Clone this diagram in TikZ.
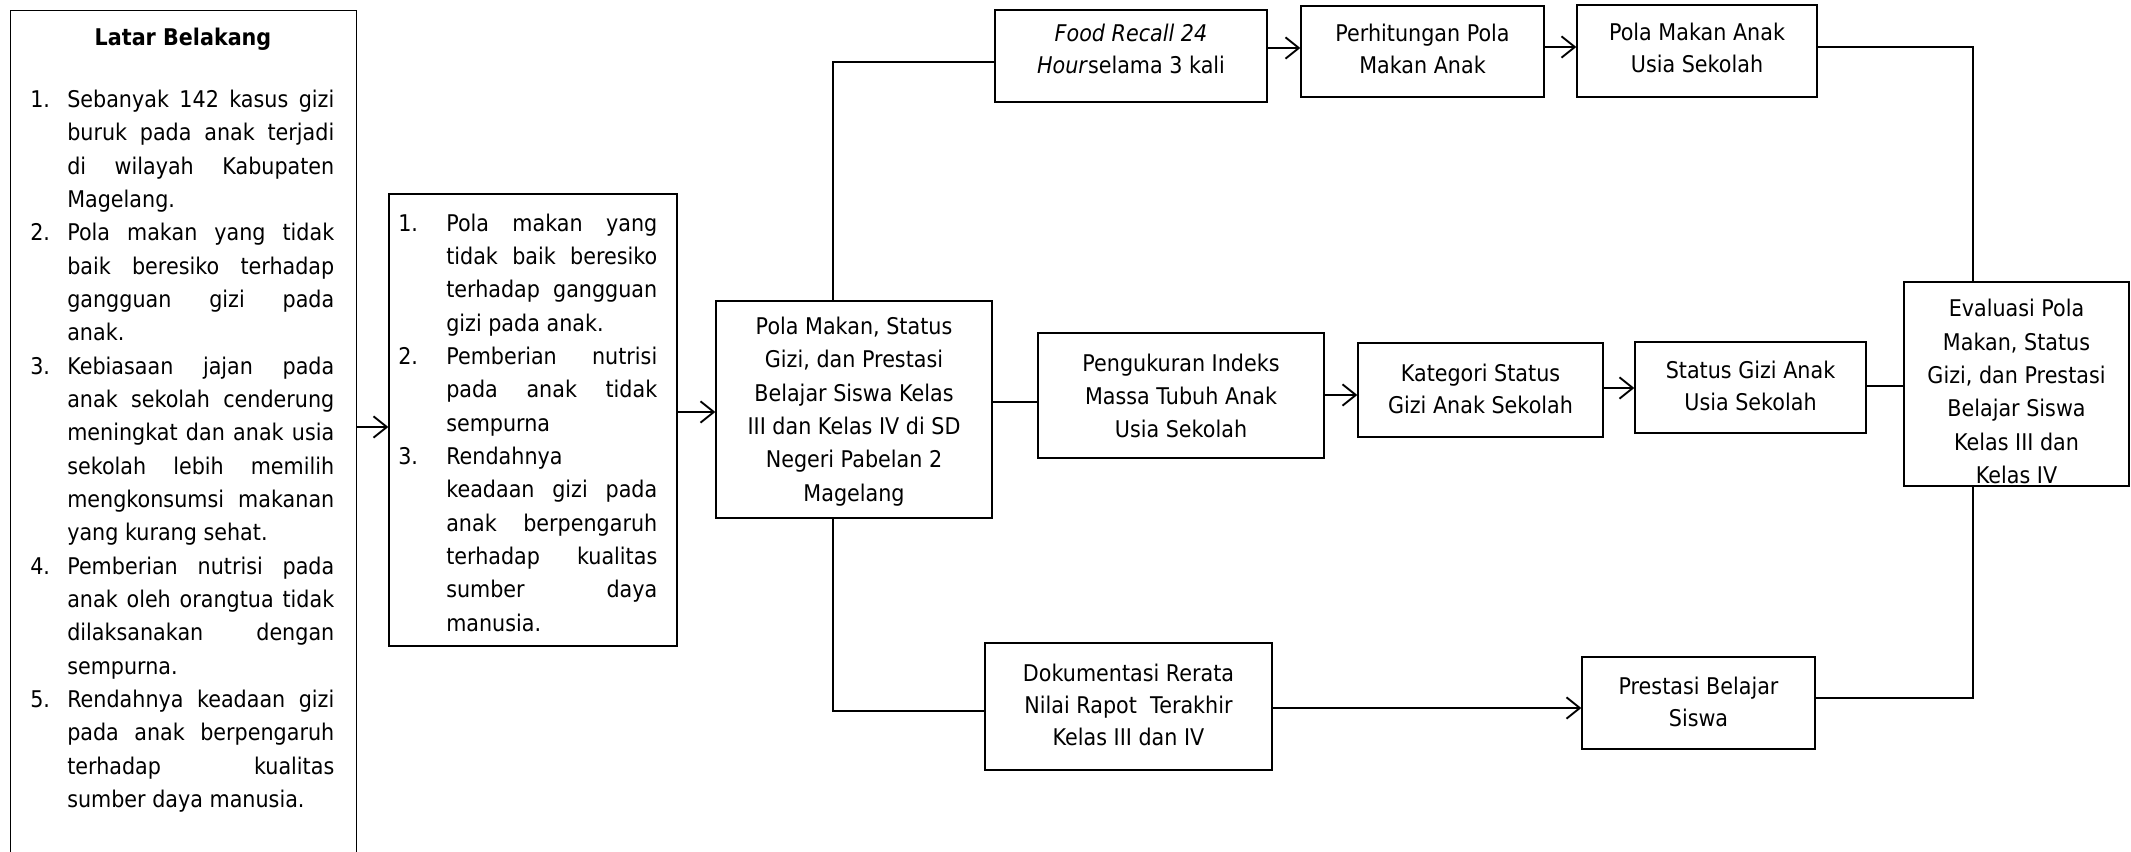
\documentclass[tikz,border=0pt]{standalone}
\usepackage{fontspec}
\setmainfont{DejaVu Sans}[FakeStretch=0.9]
\usetikzlibrary{arrows.meta,fit}
\hbadness=10000 \vbadness=10000 \tolerance=10000 \hfuzz=2pt
\newcommand\hitem[3]{\par\noindent\hangindent=#1\hangafter=1\makebox[#1][l]{\strut #2}#3}
\tikzset{
  bx/.style={draw, line width=1pt, inner sep=0pt},
  tx/.style={inner sep=0pt, align=center, font=\fontsize{17.25pt}{24pt}\selectfont},
  txw/.style={inner sep=0pt, align=center, font=\fontsize{17.25pt}{25pt}\selectfont},
  lst/.style={inner sep=0pt, anchor=north west, align=justify,
    font=\fontsize{17.25pt}{25pt}\selectfont},
  ln/.style={line width=1.4pt},
  arr/.style={ln, -{Straight Barb[length=10pt,width=16pt]}},
}
\begin{document}
\begin{tikzpicture}[x=0.75pt,y=-0.75pt]
\useasboundingbox (0,0) rectangle (2131,852);
\fill[white] (0,0) rectangle (2131,852);

% left background box (open at bottom)
\node[inner sep=0pt, fit={(11,11) (356,856)}] (latar) {};
\draw[line width=1pt] (latar.south west) -- (latar.north west) -- (latar.north east) -- (latar.south east);
\node[font=\bfseries\fontsize{17.25pt}{24pt}\selectfont] (lbtitle) at (183,39) {Latar Belakang};
\node[lst, text width=228pt] (lblist) at (30,74) {%
\hitem{27.75pt}{1.}{Sebanyak 142 kasus gizi\linebreak buruk pada anak terjadi\linebreak di wilayah Kabupaten\linebreak Magelang.}
\hitem{27.75pt}{2.}{Pola makan yang tidak\linebreak baik beresiko terhadap\linebreak gangguan gizi pada\linebreak anak.}
\hitem{27.75pt}{3.}{Kebiasaan jajan pada\linebreak anak sekolah cenderung\linebreak meningkat dan anak usia\linebreak sekolah lebih memilih\linebreak mengkonsumsi makanan\linebreak yang kurang sehat.}
\hitem{27.75pt}{4.}{Pemberian nutrisi pada\linebreak anak oleh orangtua tidak\linebreak dilaksanakan dengan\linebreak sempurna.}
\hitem{27.75pt}{5.}{Rendahnya keadaan gizi\linebreak pada anak berpengaruh\linebreak terhadap kualitas\linebreak sumber daya manusia.}\par}; 

% problem box
\node[bx, fit={(389,194) (677,646)}] (mid) {};
\node[lst, text width=194.25pt] (midlist) at (398,197.5) {%
\hitem{36pt}{1.}{Pola makan yang\linebreak tidak baik beresiko\linebreak terhadap gangguan\linebreak gizi pada anak.}
\hitem{36pt}{2.}{Pemberian nutrisi\linebreak pada anak tidak\linebreak sempurna}
\hitem{36pt}{3.}{Rendahnya\linebreak keadaan gizi pada\linebreak anak berpengaruh\linebreak terhadap kualitas\linebreak sumber daya\linebreak manusia.}\par};

% flow boxes
\node[bx, fit={(716,301) (992,518)}] (central) {};
\node[bx, fit={(995,10) (1267,102)}] (food) {};
\node[bx, fit={(1301,6) (1544,97)}] (perh) {};
\node[bx, fit={(1577,5) (1817,97)}] (pola) {};
\node[bx, fit={(1038,333) (1324,458)}] (peng) {};
\node[bx, fit={(1358,343) (1603,437)}] (kat) {};
\node[bx, fit={(1635,342) (1866,433)}] (stat) {};
\node[bx, fit={(1904,282) (2129,486)}] (eval) {};
\node[bx, fit={(985,643) (1272,770)}] (dok) {};
\node[bx, fit={(1582,657) (1815,749)}] (pres) {};

% box texts
\node[txw] (centralT) at (central.center |- 0,411.5) {Pola Makan, Status\\Gizi, dan Prestasi\\Belajar Siswa Kelas\\III dan Kelas IV di SD\\Negeri Pabelan 2\\Magelang};
\node[tx] (foodT) at (food.center |- 0,49) {\textit{Food Recall 24}\\\textit{Hour}selama 3 kali};
\node[tx] (perhT) at (perh.center |- 0,49) {Perhitungan Pola\\Makan Anak};
\node[tx] (polaT) at (pola.center |- 0,48) {Pola Makan Anak\\Usia Sekolah};
\node[txw] (pengT) at (peng.center |- 0,396) {Pengukuran Indeks\\Massa Tubuh Anak\\Usia Sekolah};
\node[tx] (katT) at (kat.center |- 0,388.5) {Kategori Status\\Gizi Anak Sekolah};
\node[tx] (statT) at (stat.center |- 0,385.5) {Status Gizi Anak\\Usia Sekolah};
\node[txw] (evalT) at (eval.center |- 0,391.5) {Evaluasi Pola\\Makan, Status\\Gizi, dan Prestasi\\Belajar Siswa\\Kelas III dan\\Kelas IV};
\node[tx] (dokT) at (dok.center |- 0,705) {Dokumentasi Rerata\\Nilai Rapot~ Terakhir\\Kelas III dan IV};
\node[tx] (presT) at (pres.center |- 0,701.5) {Prestasi Belajar\\Siswa};

% helper coordinates
\coordinate (yA) at (0,427);
\coordinate (yB) at (0,412);
\coordinate (vx) at (833,62);
\coordinate (vb) at (833,711);
\coordinate (yF) at (0,48);
\coordinate (yP) at (0,47);
\coordinate (ex1) at (1973,47);
\coordinate (yM) at (0,402);
\coordinate (yK) at (0,395);
\coordinate (yS) at (0,388);
\coordinate (yE) at (0,386);
\coordinate (yD) at (0,708);
\coordinate (ex2) at (1973,698);

% connectors
\draw[arr] (latar.east |- yA) -- (mid.west |- yA);
\draw[arr] (mid.east |- yB) -- (central.west |- yB);
\draw[ln] (central.north -| vx) |- (food.west |- vx);
\draw[arr] (food.east |- yF) -- (perh.west |- yF);
\draw[arr] (perh.east |- yP) -- (pola.west |- yP);
\draw[ln] (pola.east |- ex1) -| (eval.north -| ex1);
\draw[ln] (central.east |- yM) -- (peng.west |- yM);
\draw[arr] (peng.east |- yK) -- (kat.west |- yK);
\draw[arr] (kat.east |- yS) -- (stat.west |- yS);
\draw[ln] (stat.east |- yE) -- (eval.west |- yE);
\draw[ln] (central.south -| vb) |- (dok.west |- vb);
\draw[arr] (dok.east |- yD) -- (pres.west |- yD);
\draw[ln] (pres.east |- ex2) -| (eval.south -| ex2);
\end{tikzpicture}
\end{document}
